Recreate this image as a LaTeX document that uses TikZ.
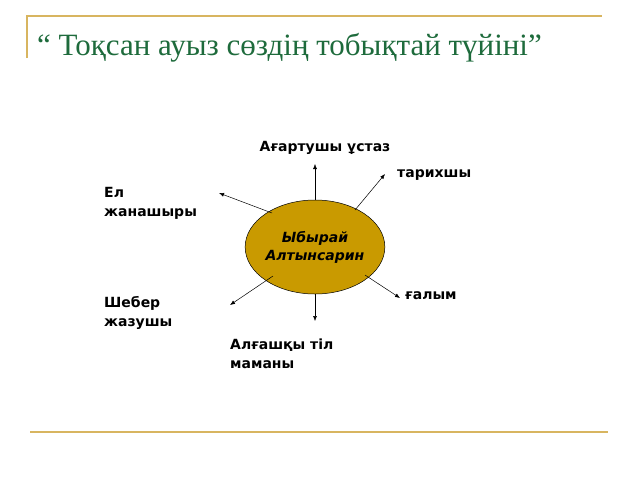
\documentclass[tikz,border=0pt]{standalone}
\usepackage{fontspec}
\setmainfont{DejaVu Sans}
\newfontfamily\titlefont{Liberation Serif}
\usetikzlibrary{arrows.meta,shapes.geometric}
\definecolor{gold}{HTML}{D8B560}
\definecolor{ttlgreen}{HTML}{1E6B3C}
\definecolor{ellfill}{HTML}{C99A00}
\begin{document}
\begin{tikzpicture}[x=1pt,y=-1pt,
  lbl/.style={font=\fontsize{14}{19}\selectfont\bfseries, align=left, inner sep=0pt},
  arr/.style={-{Latex[length=5pt,width=4pt]}, line width=0.5pt}]
\useasboundingbox (0,0) rectangle (640,480);
\draw[gold, line width=1.5pt] (27,58) -- (27,16) -- (602,16);
\draw[gold, line width=1.5pt] (30,432) -- (608,432);
\node[anchor=base west, text=ttlgreen, inner sep=0pt, font=\titlefont\fontsize{31}{36}\selectfont] (title) at (37,55) {“ Тоқсан ауыз сөздің тобықтай түйіні”};
\node[ellipse, draw, fill=ellfill, minimum width=112pt, minimum height=94pt, inner sep=0pt, line width=0.5pt, align=center, font=\fontsize{14}{18}\selectfont\bfseries\itshape] (c) at (315,247) {Ыбырай\\Алтынсарин};
\coordinate (tu) at (315,164);
\coordinate (tr) at (385,174);
\coordinate (tl) at (219,193);
\coordinate (br) at (400,298);
\coordinate (bl) at (230,305);
\coordinate (bd) at (315,321);
\draw[arr] (c.north) -- (tu);
\draw[arr] (355,210) -- (tr);
\draw[arr] (272,213) -- (tl);
\draw[arr] (365,275) -- (br);
\draw[arr] (273,276) -- (bl);
\draw[arr] (c.south) -- (bd);
\node[lbl, anchor=center] (n1) at (325,148) {Ағартушы ұстаз};
\node[lbl, anchor=west] (n2) at (397,175) {тарихшы};
\node[lbl, anchor=west] (n3) at (104,203) {Ел\\жанашыры};
\node[lbl, anchor=west] (n4) at (405,296) {ғалым};
\node[lbl, anchor=west] (n5) at (104,313) {Шебер\\жазушы};
\node[lbl, anchor=west] (n6) at (230,354) {Алғашқы тіл\\маманы};
\end{tikzpicture}
\end{document}
